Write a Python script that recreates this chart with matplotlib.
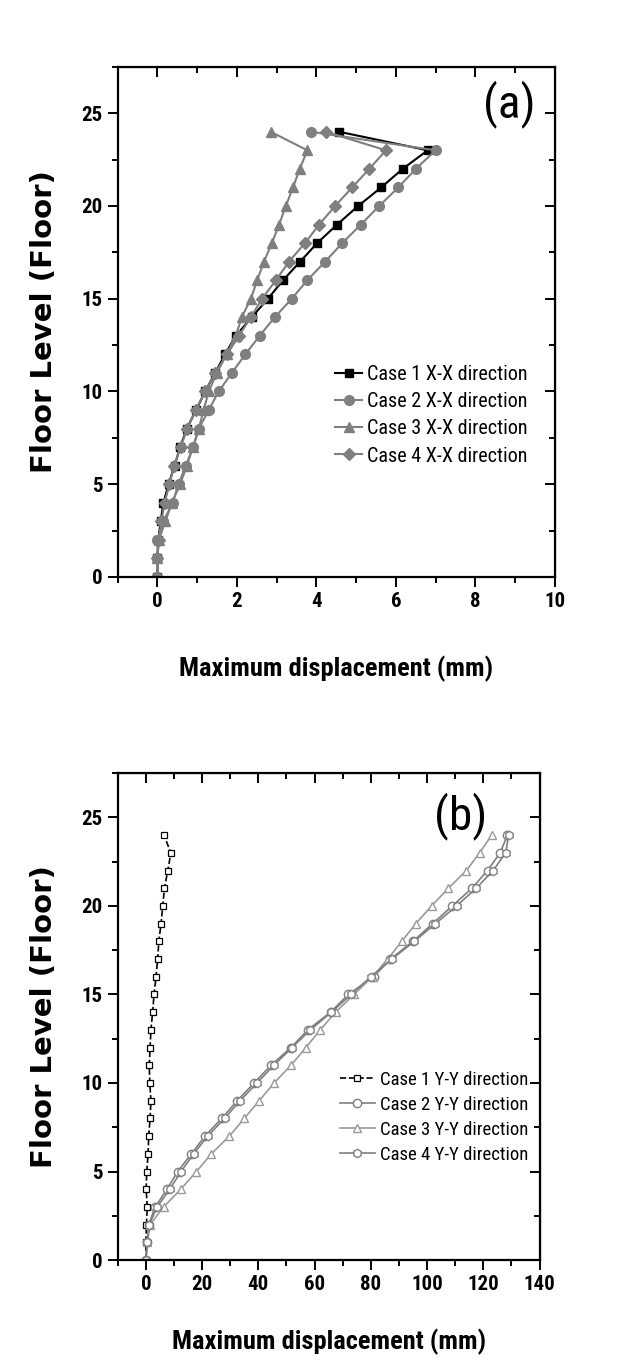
import matplotlib
matplotlib.use("Agg")
import matplotlib.pyplot as plt
from matplotlib import font_manager
from matplotlib.ticker import MultipleLocator

_fonts = font_manager.fontManager.ttflist
def pick(prefs, need_bold=True):
    for p in prefs:
        ws = [f.weight for f in _fonts if f.name == p]
        ws = [w if isinstance(w, int) else (700 if w == "bold" else 400) for w in ws]
        if ws and (not need_bold or any(w >= 700 for w in ws)):
            return p
    return "Liberation Sans"

NARROW = pick(["Roboto Condensed", "Arial Narrow", "Liberation Sans Narrow",
               "PT Sans Narrow", "Barlow Semi Condensed", "Asap Condensed",
               "Encode Sans Condensed", "Archivo Narrow"])
WIDE = "DejaVu Sans"
plt.rcParams['font.family'] = [NARROW, "DejaVu Sans"]

floors = list(range(25))

# Panel (a): X-X direction, maximum displacement (mm)
a_case1 = [0, 0, 0.02, 0.08, 0.15, 0.28, 0.43, 0.57, 0.74, 0.97, 1.2, 1.45, 1.7, 1.97,
           2.37, 2.78, 3.16, 3.59, 4.02, 4.52, 5.05, 5.63, 6.17, 6.8, 4.57]
a_case2 = [0, 0, 0.0, 0.15, 0.38, 0.53, 0.71, 0.9, 1.04, 1.29, 1.54, 1.87, 2.21, 2.57,
           2.95, 3.38, 3.77, 4.22, 4.65, 5.12, 5.58, 6.06, 6.5, 7.0, 3.86]
a_case3 = [0, 0, 0.03, 0.2, 0.36, 0.57, 0.74, 0.89, 1.04, 1.16, 1.29, 1.49, 1.74, 1.97,
           2.12, 2.35, 2.51, 2.68, 2.88, 3.06, 3.23, 3.41, 3.58, 3.77, 2.85]
a_case4 = [0, 0, 0.03, 0.1, 0.18, 0.3, 0.42, 0.58, 0.75, 0.96, 1.2, 1.45, 1.75, 2.05,
           2.35, 2.63, 2.98, 3.31, 3.71, 4.07, 4.47, 4.9, 5.33, 5.75, 4.24]
a_labels = ["Case 1 X-X direction", "Case 2 X-X direction",
            "Case 3 X-X direction", "Case 4 X-X direction"]

# Panel (b): Y-Y direction, maximum displacement (mm)
b_case1 = [0, 0, 0.2, 0.5, 0.1, 0.3, 0.8, 1.0, 1.5, 1.8, 1.4, 1.2, 1.5, 1.8,
           2.4, 2.9, 3.6, 4.2, 4.6, 5.4, 6.0, 6.6, 7.8, 8.9, 6.4]
b_case2 = [0, 0.5, 1.0, 3.3, 7.5, 11.3, 16.2, 21.0, 27.0, 32.5, 38.5, 44.5, 51.6, 57.6,
           65.7, 72.0, 81.0, 87.0, 95.0, 102.0, 109.0, 116.0, 121.5, 126.0, 128.6]
b_case3 = [0, 0.5, 1.5, 6.3, 12.4, 18.0, 23.3, 29.7, 35.0, 40.3, 45.6, 51.6, 56.9, 62.0,
           67.5, 74.0, 80.6, 86.0, 91.0, 96.0, 101.6, 107.6, 114.0, 118.7, 123.0]
b_case4 = [0, 0.5, 1.2, 4.0, 8.5, 12.5, 17.0, 22.0, 28.0, 33.5, 39.5, 45.5, 52.0, 58.5,
           66.0, 73.0, 80.0, 87.5, 95.5, 103.0, 110.5, 117.5, 123.5, 128.0, 129.0]
b_labels = ["Case 1 Y-Y direction", "Case 2 Y-Y direction",
            "Case 3 Y-Y direction", "Case 4 Y-Y direction"]

fig = plt.figure(figsize=(6.4, 13.64), dpi=100)
fig.patch.set_facecolor("white")

ax1 = fig.add_axes([0.184, 0.577, 0.683, 0.374])
ax2 = fig.add_axes([0.184, 0.0762, 0.659, 0.357])

GREY = "#7f7f7f"
LGREY = "#9a9a9a"

def style(ax, xmaj, xmin):
    for s in ax.spines.values():
        s.set_linewidth(1.6)
    ax.xaxis.set_major_locator(MultipleLocator(xmaj))
    ax.xaxis.set_minor_locator(MultipleLocator(xmin))
    ax.yaxis.set_major_locator(MultipleLocator(5))
    ax.yaxis.set_minor_locator(MultipleLocator(2.5))
    ax.tick_params(which="both", direction="out", width=1.4,
                   labelsize=15, pad=4)
    ax.tick_params(which="major", length=7)
    ax.tick_params(which="minor", length=4)
    for lab in ax.get_xticklabels() + ax.get_yticklabels():
        lab.set_fontweight("bold")
    top = ax.secondary_xaxis("top")
    top.xaxis.set_major_locator(MultipleLocator(xmaj))
    top.xaxis.set_minor_locator(MultipleLocator(xmin))
    top.tick_params(which="both", direction="in", width=1.4, labeltop=False)
    top.tick_params(which="major", length=7)
    top.tick_params(which="minor", length=4)
    right = ax.secondary_yaxis("right")
    right.yaxis.set_major_locator(MultipleLocator(5))
    right.yaxis.set_minor_locator(MultipleLocator(2.5))
    right.tick_params(which="both", direction="in", width=1.4, labelright=False)
    right.tick_params(which="major", length=7)
    right.tick_params(which="minor", length=4)

# ---- panel (a)
ax1.plot(a_case1, floors, color="black", lw=1.5, marker="s", ms=6, label=a_labels[0])
ax1.plot(a_case2, floors, color=GREY, lw=1.5, marker="o", ms=7, label=a_labels[1])
ax1.plot(a_case3, floors, color=GREY, lw=1.5, marker="^", ms=7, label=a_labels[2])
ax1.plot(a_case4, floors, color=GREY, lw=1.5, marker="D", ms=6, label=a_labels[3])
ax1.set_xlim(-1, 10)
ax1.set_ylim(0, 27.5)
style(ax1, 2, 1)
ax1.set_xlabel("Maximum displacement (mm)", fontsize=19, fontweight="bold", labelpad=32)
ax1.set_ylabel("Floor Level (Floor)", fontsize=21, fontweight="bold", labelpad=17,
               family=[WIDE])
ax1.text(8.86, 25.5, "(a)", fontsize=34, ha="center", va="center")
ax1.legend(loc="upper left", bbox_to_anchor=(0.497, 0.416), frameon=False,
           fontsize=14.5, handlelength=1.35, handletextpad=0.25, labelspacing=0.41,
           borderaxespad=0, borderpad=0)

# ---- panel (b)
ax2.plot(b_case1, floors, color="black", lw=1.2, ls="--", marker="s", ms=5,
         mfc="white", mec="black", mew=0.9, label=b_labels[0])
ax2.plot(b_case2, floors, color=GREY, lw=1.2, marker="o", ms=6,
         mfc="white", mec=GREY, mew=1.0, label=b_labels[1])
ax2.plot(b_case3, floors, color=LGREY, lw=1.2, marker="^", ms=6,
         mfc="white", mec=LGREY, mew=1.0, label=b_labels[2])
ax2.plot(b_case4, floors, color=GREY, lw=1.2, marker="h", ms=6,
         mfc="white", mec=GREY, mew=1.0, label=b_labels[3])
ax2.set_xlim(-10, 140)
ax2.set_ylim(0, 27.5)
style(ax2, 20, 10)
ax2.set_xlabel("Maximum displacement (mm)", fontsize=19, fontweight="bold", labelpad=25)
ax2.set_ylabel("Floor Level (Floor)", fontsize=21, fontweight="bold", labelpad=17,
               family=[WIDE])
ax2.text(112, 25.1, "(b)", fontsize=34, ha="center", va="center")
ax2.legend(loc="upper left", bbox_to_anchor=(0.526, 0.389), frameon=False,
           fontsize=13.5, handlelength=1.9, handletextpad=0.27, labelspacing=0.38,
           borderaxespad=0, borderpad=0)

fig.savefig("out.png", dpi=100, facecolor="white")
